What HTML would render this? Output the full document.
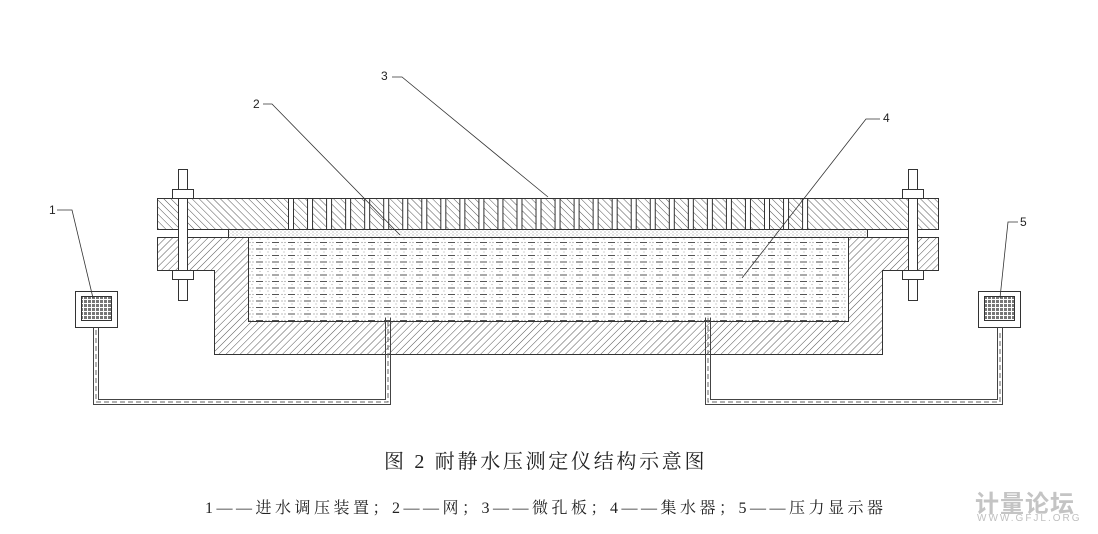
<!DOCTYPE html>
<html><head><meta charset="utf-8"><style>
body{margin:0;background:#fff;width:1098px;height:534px;overflow:hidden;position:relative}
.t{position:absolute;font-family:"Liberation Serif","Noto Serif CJK SC",serif;color:#222;white-space:nowrap}
</style></head><body>
<svg width="1098" height="534" style="position:absolute;left:0;top:0" xmlns="http://www.w3.org/2000/svg">
<defs>
<pattern id="hb" width="5" height="5" patternUnits="userSpaceOnUse" patternTransform="rotate(-45)"><line x1="0" y1="0" x2="0" y2="5" stroke="#555" stroke-width="1"/></pattern>
<pattern id="hf" width="5" height="5" patternUnits="userSpaceOnUse" patternTransform="rotate(45)"><line x1="0" y1="0" x2="0" y2="5" stroke="#555" stroke-width="1"/></pattern>
<pattern id="water" width="16" height="6.5" patternUnits="userSpaceOnUse"><line x1="0" y1="2" x2="7" y2="2" stroke="#555" stroke-width="1"/><circle cx="10" cy="2" r="0.6" fill="#888"/><circle cx="13" cy="2" r="0.6" fill="#888"/><circle cx="4" cy="5" r="0.6" fill="#aaa"/><circle cx="12" cy="5" r="0.6" fill="#aaa"/></pattern>
<pattern id="dots" width="4" height="3" patternUnits="userSpaceOnUse"><circle cx="1" cy="1" r="0.6" fill="#999"/><circle cx="3" cy="2.5" r="0.5" fill="#bbb"/></pattern>
<pattern id="grid" width="4" height="4" patternUnits="userSpaceOnUse"><rect width="4" height="4" fill="#fff"/><rect x="0" y="0" width="3" height="3" fill="#777"/></pattern>
</defs>
<g stroke="#333" stroke-width="1">
<rect x="157.5" y="198.5" width="781" height="31" fill="url(#hb)"/>
<path d="M157.5 237.5 H938.5 V270.5 H882.5 V354.5 H214.5 V270.5 H157.5 Z" fill="url(#hf)"/>
<rect x="248.5" y="237.5" width="600" height="84" fill="#fff"/>
<rect x="248.5" y="237.5" width="600" height="84" fill="url(#water)"/>
<rect x="228.5" y="229.5" width="639" height="8" fill="#fff"/>
<rect x="228.5" y="229.5" width="639" height="8" fill="url(#dots)" stroke-width="0.8"/>
</g>
<g fill="#fff" stroke="#333" stroke-width="1" id="slots"></g>
<g fill="#fff" stroke="#333" stroke-width="1">
<rect x="178.5" y="169.5" width="9" height="131"/>
<rect x="172.5" y="189.5" width="21" height="9"/>
<rect x="172.5" y="270.5" width="21" height="9"/>
<rect x="908.5" y="169.5" width="9" height="131"/>
<rect x="902.5" y="189.5" width="21" height="9"/>
<rect x="902.5" y="270.5" width="21" height="9"/>
</g>
<g stroke="#333" stroke-width="1">
<rect x="75.5" y="291.5" width="42" height="36" fill="#fff"/>
<rect x="81.5" y="296.5" width="30" height="24" fill="url(#grid)"/>
<rect x="978.5" y="291.5" width="42" height="36" fill="#fff"/>
<rect x="984.5" y="296.5" width="30" height="24" fill="url(#grid)"/>
</g>
<g fill="none" stroke="#444" stroke-width="1">
<path d="M93.5 327.5 V404.5 H390.5 V317.5"/>
<path d="M98.5 327.5 V399.5 H385.5 V317.5"/>
<path d="M96 330 V402 H388 V318" stroke="#666" stroke-dasharray="5,3"/>
<path d="M705.5 317.5 V404.5 H1002.5 V327.5"/>
<path d="M710.5 317.5 V399.5 H997.5 V327.5"/>
<path d="M708 318 V402 H1000 V330" stroke="#666" stroke-dasharray="5,3"/>
</g>
<g stroke="#333" stroke-width="0.8" fill="none">
<path d="M57 210 H72 L93 298"/>
<path d="M263 104 H272 L400 235"/>
<path d="M392 77 H402 L548 197"/>
<path d="M880 119 H866 L742 278"/>
<path d="M1018 222 H1008 L1000 298"/>
</g>
<g font-family="Liberation Sans, sans-serif" font-size="12" fill="#222">
<text x="49" y="214">1</text><text x="253" y="108">2</text><text x="381" y="80">3</text><text x="883" y="122">4</text><text x="1020" y="226">5</text>
</g>
</svg>
<script>
var g=document.getElementById('slots'),s='';
for(var i=0;i<28;i++){var x=288+i*19.04;s+='<rect x="'+(x+0.5)+'" y="198.5" width="5" height="31"/>';}
g.innerHTML=s;
</script>
<div class="t" style="left:384px;top:445px;font-size:20px;letter-spacing:2.7px">图 2&nbsp;耐静水压测定仪结构示意图</div>
<div class="t" style="left:205px;top:495px;font-size:16px;letter-spacing:3.5px">1——进水调压装置；2——网；3——微孔板；4——集水器；5——压力显示器</div>
<div class="t" style="left:975px;top:484px;font-size:24px;color:#c4c4c4;font-weight:bold;font-family:'Noto Sans CJK SC',sans-serif;letter-spacing:1px">计量论坛</div>
<div class="t" style="left:977px;top:513px;font-size:10px;color:#c0c0c0;font-family:'Liberation Sans',sans-serif;letter-spacing:2px">WWW.GFJL.ORG</div>
</body></html>
